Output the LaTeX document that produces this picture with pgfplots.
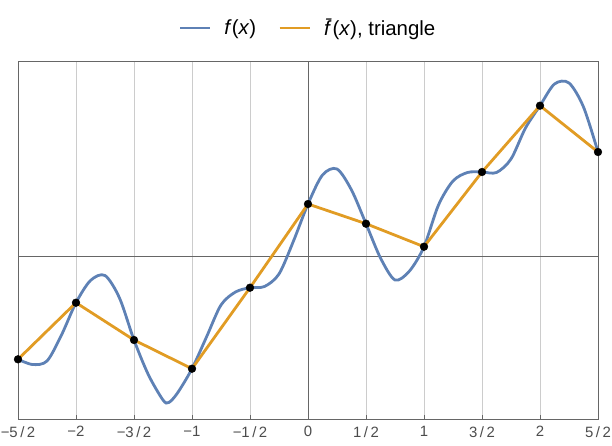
\documentclass[border=0pt]{standalone}
\usepackage{fontspec}
\setmainfont{Liberation Sans}
\usepackage{pgfplots}
\pgfplotsset{compat=1.18}
\definecolor{mblue}{rgb}{0.368417,0.506779,0.709798}
\definecolor{morange}{rgb}{0.880722,0.611041,0.142051}
\definecolor{framegray}{gray}{0.4}
\definecolor{labelgray}{gray}{0.3}
\begin{document}
\begin{tikzpicture}
\useasboundingbox (-18bp,-27bp) rectangle (594bp,419bp);
\begin{axis}[
  at={(0,0)}, anchor=south west,
  scale only axis, width=580bp, height=358bp,
  xmin=-2.5, xmax=2.5, ymin=-1.625, ymax=1.955,
  xtick={-2.5,-2,-1.5,-1,-0.5,0,0.5,1,1.5,2,2.5},
  xticklabels={−5\,/\,2,−2,−3\,/\,2,−1,−1\,/\,2,0,1\,/\,2,1,3\,/\,2,2,5\,/\,2},
  ytick=\empty,
  xtick pos=bottom, tick align=inside, major tick length=4bp,
  xmajorgrids, grid style={black!20, line width=0.7bp},
  axis line style={framegray, line width=0.9bp},
  tick style={framegray, line width=0.9bp},
  xticklabel style={font=\fontsize{15}{15}\selectfont, text=labelgray, inner sep=0pt, yshift=-7bp},
  legend columns=2,
  legend style={draw=none, fill=none, at={(0.5,1)}, anchor=center, yshift=33bp,
    font=\fontsize{20.5}{20.5}\selectfont,
    /tikz/every odd column/.append style={column sep=11bp},
    /tikz/every even column/.append style={column sep=20bp}},
  legend image code/.code={\draw[#1] (0bp,0bp) -- (30bp,0bp);},
]
\draw[framegray, line width=0.9bp] (axis cs:-2.5,0) -- (axis cs:2.5,0);
\draw[framegray, line width=0.9bp] (axis cs:0,-1.625) -- (axis cs:0,1.955);
\addplot[mblue, line width=2.8bp, smooth] coordinates {
(-2.5,-1.028) (-2.375,-1.08) (-2.25,-1.045) (-2.125,-0.785) (-2,-0.462)
(-1.875,-0.24) (-1.75,-0.19) (-1.625,-0.415) (-1.5,-0.835)
(-1.375,-1.185) (-1.25,-1.435) (-1.2,-1.46) (-1.125,-1.365) (-1,-1.122)
(-0.875,-0.805) (-0.75,-0.485) (-0.625,-0.355) (-0.5,-0.312)
(-0.375,-0.30) (-0.25,-0.175) (-0.125,0.155) (0,0.525)
(0.125,0.815) (0.25,0.875) (0.375,0.665) (0.5,0.328)
(0.625,-0.015) (0.75,-0.235) (0.875,-0.145) (1,0.098)
(1.125,0.515) (1.25,0.755) (1.375,0.84) (1.5,0.845)
(1.625,0.84) (1.75,0.975) (1.875,1.285) (2,1.508)
(2.125,1.725) (2.25,1.735) (2.375,1.495) (2.5,1.045)
};
\addlegendentry{\textit{f}(\textit{x})}
\addplot[morange, line width=2.8bp] coordinates {
(-2.5,-1.028) (-2,-0.462) (-1.5,-0.835) (-1,-1.122) (-0.5,-0.312) (0,0.525)
(0.5,0.328) (1,0.098) (1.5,0.845) (2,1.508) (2.5,1.045)
};
\addlegendentry{\textit{\=f}(\textit{x}), triangle}
\addplot[only marks, mark=*, mark size=3.9bp, black, forget plot] coordinates {
(-2.5,-1.028) (-2,-0.462) (-1.5,-0.835) (-1,-1.122) (-0.5,-0.312) (0,0.525)
(0.5,0.328) (1,0.098) (1.5,0.845) (2,1.508) (2.5,1.045)
};
\end{axis}
\end{tikzpicture}
\end{document}
